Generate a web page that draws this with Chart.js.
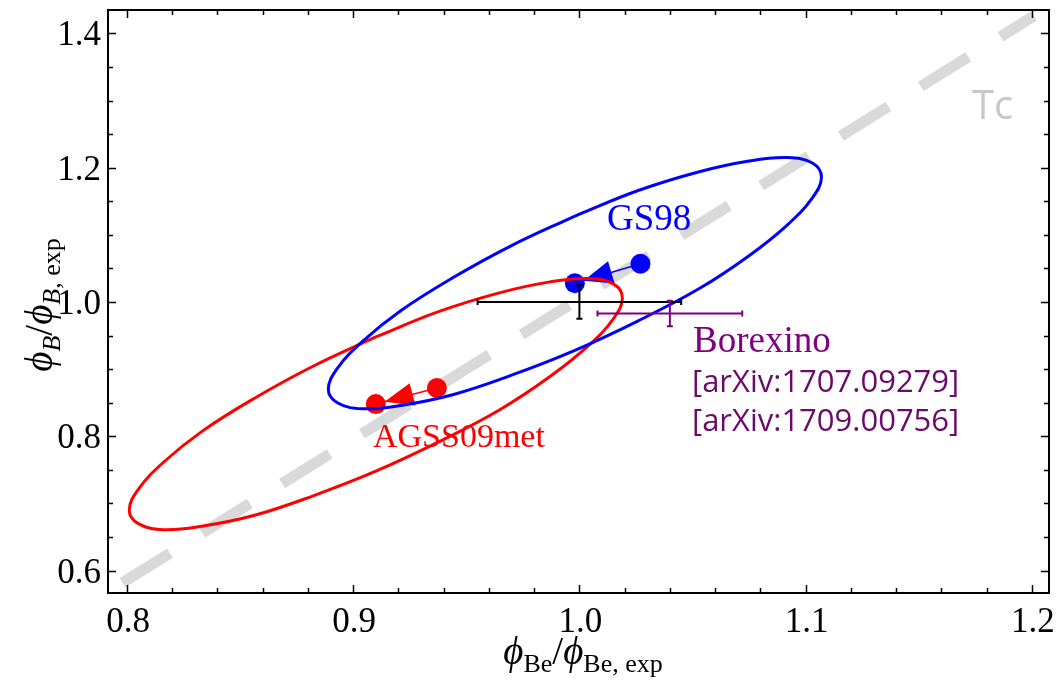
<!DOCTYPE html>
<html>
<head>
<meta charset="utf-8">
<script src="https://cdn.jsdelivr.net/npm/chart.js@4.4.1/dist/chart.umd.min.js"></script>
<style>
  html, body { margin: 0; padding: 0; background: #fff; }
</style>
</head>
<body>
<canvas id="flux-chart" width="1059" height="681"></canvas>
<script>
const X_TICKS = [0.8, 0.9, 1.0, 1.1, 1.2];
const Y_TICKS = [0.6, 0.8, 1.0, 1.2, 1.4];
const X_RANGE = [0.7916, 1.2076];
const Y_RANGE = [0.5667, 1.4348];

// Tc scaling line
const tcX = [0.798, 1.201];
const tcY = [0.582, 1.426];

// model predictions: first point is the fit, second is the arrow tail
const gs98X = [0.998, 1.027];
const gs98Y = [1.028, 1.057];
const agssX = [0.910, 0.937];
const agssY = [0.848, 0.872];

// contours around each model
const gs98ContourX = [0.998, 0.970, 0.944, 0.921, 0.904, 0.893, 0.889, 0.893, 0.904, 0.921, 0.944, 0.970,
  0.998, 1.026, 1.053, 1.075, 1.092, 1.103, 1.107, 1.103, 1.092, 1.075, 1.053, 1.026, 0.998];
const gs98ContourY = [1.128, 1.084, 1.036, 0.987, 0.941, 0.901, 0.870, 0.850, 0.841, 0.846, 0.862, 0.891,
  0.928, 0.972, 1.020, 1.069, 1.115, 1.155, 1.186, 1.207, 1.215, 1.210, 1.194, 1.166, 1.128];
const agssContourX = [0.910, 0.882, 0.856, 0.833, 0.816, 0.805, 0.801, 0.805, 0.816, 0.833, 0.856, 0.882,
  0.910, 0.938, 0.965, 0.987, 1.004, 1.015, 1.019, 1.015, 1.004, 0.987, 0.965, 0.938, 0.910];
const agssContourY = [0.948, 0.904, 0.856, 0.807, 0.761, 0.721, 0.690, 0.670, 0.661, 0.666, 0.682, 0.711,
  0.748, 0.792, 0.840, 0.889, 0.935, 0.975, 1.006, 1.027, 1.035, 1.030, 1.014, 0.986, 0.948];

// measurements: [x, y, xErr, yErr]
const expRef = [1.0, 1.0, 0.045, 0.025];
const borexino = [1.040, 0.983, 0.032, 0.019];

const SERIF = '"Liberation Serif", "Times New Roman", serif';
const SANS = '"Open Sans", "Noto Sans", sans-serif';

function toPoints(xs, ys) {
  return xs.map((x, i) => ({ x: x, y: ys[i] }));
}

function drawRuns(ctx, runs, x, y) {
  runs.forEach((r) => {
    ctx.font = r.font;
    ctx.fillText(r.text, x, y + (r.dy || 0));
    x += ctx.measureText(r.text).width;
  });
}

function runsWidth(ctx, runs) {
  let w = 0;
  runs.forEach((r) => {
    ctx.font = r.font;
    w += ctx.measureText(r.text).width;
  });
  return w;
}

// arrowhead pointing from the tail point to the fit point
const arrowPlugin = {
  id: 'arrowHeads',
  afterDatasetDraw(chart, args) {
    const ds = chart.data.datasets[args.index];
    if (!ds.arrow) return;
    const { ctx, scales } = chart;
    const p0 = ds.data[0];
    const p1 = ds.data[1];
    const bx = scales.x.getPixelForValue(p0.x);
    const by = scales.y.getPixelForValue(p0.y);
    const ax = scales.x.getPixelForValue(p1.x);
    const ay = scales.y.getPixelForValue(p1.y);
    const len = Math.hypot(bx - ax, by - ay);
    const ux = (bx - ax) / len;
    const uy = (by - ay) / len;
    const tipX = bx - ux * 9;
    const tipY = by - uy * 9;
    const baseX = tipX - ux * 29;
    const baseY = tipY - uy * 29;
    const half = 11.5;
    ctx.save();
    ctx.fillStyle = ds.borderColor;
    ctx.beginPath();
    ctx.moveTo(tipX, tipY);
    ctx.lineTo(baseX - uy * half, baseY + ux * half);
    ctx.lineTo(baseX + uy * half, baseY - ux * half);
    ctx.closePath();
    ctx.fill();
    ctx.restore();
  },
};

function drawErrorBar(chart, m, color) {
  const { ctx, scales } = chart;
  const px = (v) => scales.x.getPixelForValue(v);
  const py = (v) => scales.y.getPixelForValue(v);
  const cap = 3;
  const x0 = px(m[0] - m[2]), x1 = px(m[0] + m[2]), xc = px(m[0]);
  const y0 = py(m[1] - m[3]), y1 = py(m[1] + m[3]), yc = py(m[1]);
  ctx.save();
  ctx.strokeStyle = color;
  ctx.lineWidth = 2;
  ctx.beginPath();
  ctx.moveTo(x0, yc); ctx.lineTo(x1, yc);
  ctx.moveTo(x0, yc - cap); ctx.lineTo(x0, yc + cap);
  ctx.moveTo(x1, yc - cap); ctx.lineTo(x1, yc + cap);
  ctx.moveTo(xc, y0); ctx.lineTo(xc, y1);
  ctx.moveTo(xc - cap, y0); ctx.lineTo(xc + cap, y0);
  ctx.moveTo(xc - cap, y1); ctx.lineTo(xc + cap, y1);
  ctx.stroke();
  ctx.restore();
}

const errorBarPlugin = {
  id: 'errorBars',
  afterDatasetsDraw(chart) {
    drawErrorBar(chart, expRef, '#000000');
    drawErrorBar(chart, borexino, '#800080');
  },
};

// frame with inward ticks on all four sides, tick labels and axis titles
const framePlugin = {
  id: 'frame',
  afterDraw(chart) {
    const { ctx, chartArea: a, scales } = chart;
    const xs = scales.x, ys = scales.y;
    ctx.save();
    ctx.strokeStyle = '#000';
    ctx.lineWidth = 1.5;
    ctx.beginPath();
    const tickX = (v, len) => {
      const p = Math.round(xs.getPixelForValue(v)) + 0.5;
      ctx.moveTo(p, a.bottom); ctx.lineTo(p, a.bottom - len);
      ctx.moveTo(p, a.top); ctx.lineTo(p, a.top + len);
    };
    const tickY = (v, len) => {
      const p = Math.round(ys.getPixelForValue(v)) + 0.5;
      ctx.moveTo(a.left, p); ctx.lineTo(a.left + len, p);
      ctx.moveTo(a.right, p); ctx.lineTo(a.right - len, p);
    };
    for (let i = 0; i <= 20; i++) {
      const v = 0.8 + i * 0.02;
      tickX(v, i % 5 === 0 ? 8 : 5);
    }
    for (let i = 0; i <= 16; i++) {
      const v = 0.6 + i * 0.05;
      tickY(v, i % 4 === 0 ? 8 : 5);
    }
    ctx.stroke();
    ctx.lineWidth = 2;
    ctx.strokeRect(a.left, a.top, a.right - a.left, a.bottom - a.top);

    ctx.fillStyle = '#000';
    ctx.font = '35px ' + SERIF;
    ctx.textAlign = 'center';
    ctx.textBaseline = 'alphabetic';
    X_TICKS.forEach((v) => ctx.fillText(v.toFixed(1), xs.getPixelForValue(v) + 1, 632));
    ctx.textAlign = 'right';
    Y_TICKS.forEach((v) => ctx.fillText(v.toFixed(1), 101, ys.getPixelForValue(v) + 12));

    ctx.textAlign = 'left';
    const big = 'italic 39px ' + SERIF;
    const subIt = 'italic 26px ' + SERIF;
    const sub = '26px ' + SERIF;
    const slash = '39px ' + SERIF;
    const xTitle = [
      { text: 'ϕ', font: big },
      { text: 'Be', font: sub, dy: 8 },
      { text: '/', font: slash },
      { text: 'ϕ', font: big },
      { text: 'Be, exp', font: sub, dy: 8 },
    ];
    drawRuns(ctx, xTitle, 583 - runsWidth(ctx, xTitle) / 2, 664);

    const yTitle = [
      { text: 'ϕ', font: big },
      { text: 'B', font: subIt, dy: 8 },
      { text: '/', font: slash },
      { text: 'ϕ', font: big },
      { text: 'B', font: subIt, dy: 8 },
      { text: ', exp', font: sub, dy: 8 },
    ];
    ctx.translate(52, 305);
    ctx.rotate(-Math.PI / 2);
    drawRuns(ctx, yTitle, -runsWidth(ctx, yTitle) / 2, 0);
    ctx.restore();
  },
};

const labelPlugin = {
  id: 'labels',
  afterDatasetsDraw(chart) {
    const { ctx } = chart;
    ctx.save();
    ctx.textAlign = 'left';
    ctx.textBaseline = 'alphabetic';
    ctx.fillStyle = '#c8c8c8';
    ctx.font = '40px ' + SANS;
    ctx.fillText('Tc', 972, 119);
    ctx.fillStyle = '#0000ff';
    ctx.font = '37px ' + SERIF;
    ctx.fillText('GS98', 607, 230);
    ctx.fillStyle = '#ff0000';
    ctx.font = '34px ' + SERIF;
    ctx.fillText('AGSS09met', 373, 447);
    ctx.fillStyle = '#800080';
    ctx.font = '37px ' + SERIF;
    ctx.fillText('Borexino', 693, 352);
    ctx.fillStyle = '#6a0a6a';
    ctx.font = '31px ' + SANS;
    ctx.fillText('[arXiv:1707.09279]', 692, 392);
    ctx.fillText('[arXiv:1709.00756]', 692, 431);
    ctx.restore();
  },
};

const contourStyle = {
  showLine: true,
  tension: 0.4,
  borderWidth: 3,
  pointRadius: 0,
  fill: false,
};

new Chart(document.getElementById('flux-chart'), {
  type: 'scatter',
  data: {
    datasets: [
      { label: 'GS98 contour', data: toPoints(gs98ContourX, gs98ContourY), borderColor: '#0000ff', order: 1, ...contourStyle },
      { label: 'AGSS09met contour', data: toPoints(agssContourX, agssContourY), borderColor: '#ff0000', order: 1, ...contourStyle },
      {
        label: 'GS98', data: toPoints(gs98X, gs98Y), arrow: true, order: 2,
        showLine: true, borderColor: '#0000ff', borderWidth: 1.5,
        pointRadius: 10, pointBackgroundColor: '#0000ff', pointBorderWidth: 0,
      },
      {
        label: 'AGSS09met', data: toPoints(agssX, agssY), arrow: true, order: 2,
        showLine: true, borderColor: '#ff0000', borderWidth: 1.5,
        pointRadius: 10, pointBackgroundColor: '#ff0000', pointBorderWidth: 0,
      },
      {
        label: 'Tc', data: toPoints(tcX, tcY), order: 3,
        showLine: true, borderColor: '#d9d9d9', borderWidth: 11, borderDash: [56, 38],
        borderCapStyle: 'butt', pointRadius: 0,
      },
    ],
  },
  options: {
    responsive: false,
    animation: false,
    layout: { padding: { left: 108, top: 7, right: 5, bottom: 88 } },
    plugins: {
      legend: { display: false },
      tooltip: { enabled: false },
    },
    scales: {
      x: { type: 'linear', min: X_RANGE[0], max: X_RANGE[1], display: false },
      y: { type: 'linear', min: Y_RANGE[0], max: Y_RANGE[1], display: false },
    },
  },
  plugins: [arrowPlugin, errorBarPlugin, labelPlugin, framePlugin],
});
</script>
</body>
</html>
